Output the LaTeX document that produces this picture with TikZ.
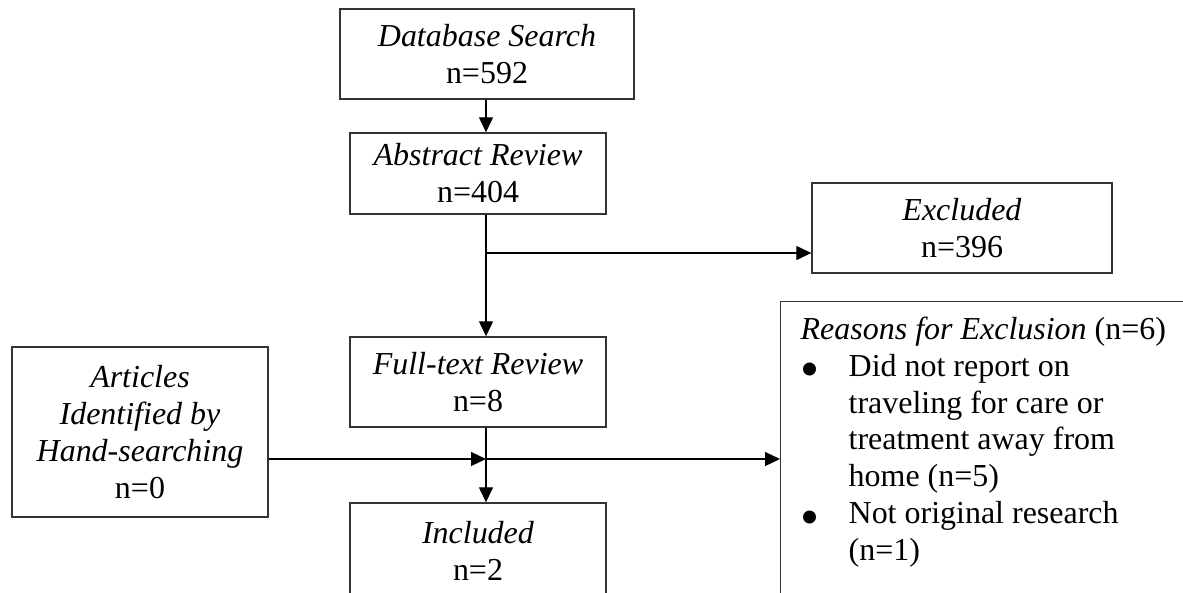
\documentclass[tikz,border=0pt]{standalone}
\usepackage{fontspec}
\setmainfont{Liberation Serif}
\usetikzlibrary{arrows.meta}
\definecolor{Frame}{HTML}{333333}
\definecolor{Ink}{HTML}{000000}
\newcommand{\bulletrow}[1]{\makebox[1.5em][l]{\raisebox{-0.36em}{\scalebox{1.7}{\textbullet}}}#1}
\newcommand{\hangrow}[1]{\hspace*{1.5em}#1}

\begin{document}
\begin{tikzpicture}[x=0.02cm,y=-0.02cm,font=\fontsize{18.2}{21}\selectfont,flow/.style={-{Triangle[length=0.3cm,width=0.28cm]}, line width=0.7pt, draw=Ink},stagebox/.style={draw=Frame, line width=0.8pt, align=center, inner sep=0pt},reasonbox/.style={draw=Frame, line width=0.8pt, align=flush left, anchor=north west, text width=7.6cm, inner xsep=0.4cm, inner ysep=0.3cm}]
\useasboundingbox (0,0) rectangle (1183,592);
\clip (0,0) rectangle (1183,592);
\node[stagebox, minimum width=5.88cm, minimum height=1.8cm] (search) at (487,54) {\textit{Database Search}\\n=592};
\node[stagebox, minimum width=5.12cm, minimum height=1.62cm] (abstract) at (478,173.5) {\textit{Abstract Review}\\n=404};
\node[stagebox, minimum width=6cm, minimum height=1.8cm] (excluded) at (962,228) {\textit{Excluded}\\n=396};
\node[stagebox, minimum width=5.12cm, minimum height=1.8cm] (fulltext) at (478,382) {\textit{Full-text Review}\\n=8};
\node[stagebox, minimum width=5.12cm, minimum height=3.4cm] (hand) at (140,432) {\textit{Articles}\\\textit{Identified by}\\\textit{Hand-searching}\\n=0};
\node[stagebox, minimum width=5.12cm, minimum height=1.92cm] (included) at (478,551) {\textit{Included}\\n=2};
\node[reasonbox] (reasons) at (780,301) {\textit{Reasons for Exclusion} (n=6)\\
\bulletrow{Did not report on}\\
\hangrow{traveling for care or}\\
\hangrow{treatment away from}\\
\hangrow{home (n=5)}\\
\bulletrow{Not original research}\\
\hangrow{(n=1)}\rule[-1.5cm]{0pt}{0pt}};
% branch points on the main line
\coordinate (split) at (486,253);
\coordinate (cross) at (486,459);
\draw[flow] (search.south -| split) -- (abstract.north -| split);
\draw[flow] (abstract.south -| split) -- (fulltext.north -| split);
\draw[flow] (split) -- (split -| excluded.west);
\draw[flow] (fulltext.south -| cross) -- (included.north -| cross);
\draw[flow] (hand.east |- cross) -- (cross);
\draw[flow] (cross) -- (cross -| reasons.west);
\end{tikzpicture}
\end{document}
